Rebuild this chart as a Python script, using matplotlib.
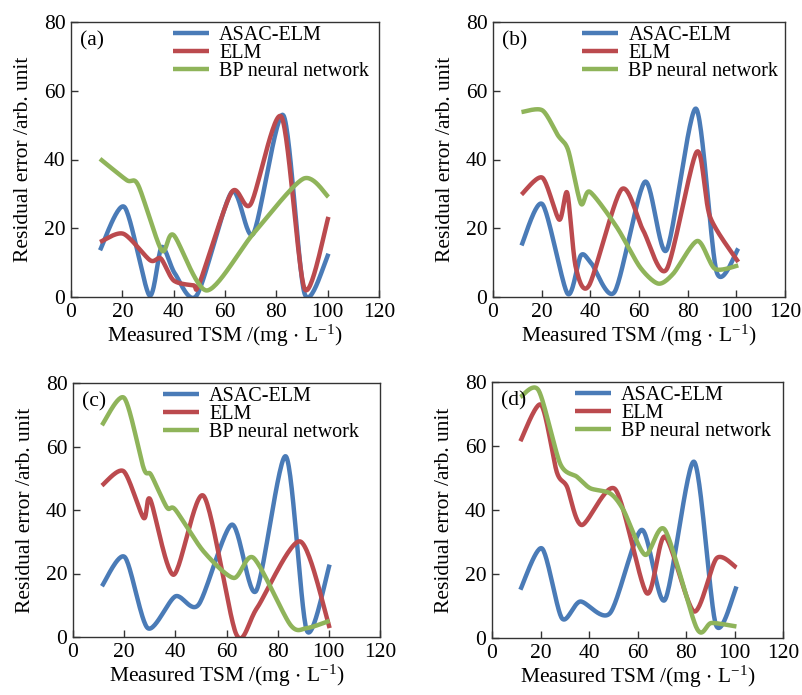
import numpy as np
import matplotlib
matplotlib.use("Agg")
import matplotlib.pyplot as plt

plt.rcParams['font.family'] = ['Liberation Serif', 'DejaVu Serif']
plt.rcParams['mathtext.fontset'] = 'custom'
plt.rcParams['mathtext.rm'] = 'Liberation Serif'
plt.rcParams['mathtext.default'] = 'regular'

series_names = ["ASAC-ELM", "ELM", "BP neural network"]
colors = ["#4a7bb7", "#bb4a4e", "#8fb45a"]
panel_labels = ["(a)", "(b)", "(c)", "(d)"]
x_ticks = [0, 20, 40, 60, 80, 100, 120]
y_ticks = [0, 20, 40, 60, 80]

# Panel (a)
a_asac_x = [11.3, 20.8, 30.5, 35.3, 40.5, 49.0, 62.6, 71.0, 82.7, 91.0, 100.3]
a_asac_y = [13.6, 26.2, 0.5, 14.5, 6.8, 0.5, 30.5, 18.4, 52.9, 1.0, 12.6]
a_elm_x = [11.3, 20.4, 30.8, 35.0, 40.0, 47.7, 50.0, 62.6, 70.0, 82.0, 91.0, 100.3]
a_elm_y = [16.0, 18.4, 10.7, 11.2, 4.8, 3.4, 3.9, 30.5, 27.0, 52.4, 2.4, 23.3]
a_bp_x = [11.3, 21.7, 26.2, 35.3, 40.0, 52.9, 71.0, 90.5, 100.3]
a_bp_y = [40.2, 34.0, 32.5, 13.6, 18.0, 1.9, 18.4, 34.4, 29.1]

# Panel (b)
b_asac_x = [11.7, 20.3, 30.6, 36.1, 40.5, 50.0, 62.4, 71.3, 83.4, 91.9, 100.8]
b_asac_y = [15.0, 27.0, 1.0, 12.1, 9.7, 1.5, 33.5, 13.6, 54.8, 7.3, 14.1]
b_elm_x = [11.7, 20.3, 27.2, 30.5, 34.0, 39.5, 52.8, 61.7, 71.3, 83.7, 89.2, 100.8]
b_elm_y = [29.8, 34.7, 22.5, 30.3, 8.7, 3.4, 31.3, 19.4, 8.0, 42.2, 23.3, 10.2]
b_bp_x = [11.7, 20.3, 26.7, 30.9, 36.1, 39.8, 50.8, 60.4, 67.9, 74.1, 84.0, 91.2, 100.8]
b_bp_y = [53.8, 54.3, 47.0, 42.7, 27.2, 30.6, 20.4, 8.7, 3.9, 6.8, 16.3, 8.2, 9.2]

# Panel (c)
c_asac_x = [11.3, 20.2, 29.2, 40.0, 49.1, 62.1, 71.5, 83.2, 91.4, 100.3]
c_asac_y = [16.0, 25.2, 2.8, 12.8, 10.2, 35.4, 14.4, 56.9, 2.0, 22.8]
c_elm_x = [11.3, 19.8, 27.6, 30.2, 39.3, 51.0, 63.8, 71.9, 88.8, 100.3]
c_elm_y = [47.7, 52.2, 37.5, 43.3, 19.6, 44.5, 0.9, 9.1, 30.1, 2.8]
c_bp_x = [11.3, 20.0, 27.6, 30.5, 36.7, 40.0, 51.0, 62.8, 70.6, 84.9, 91.4, 100.3]
c_bp_y = [66.7, 75.3, 53.2, 51.1, 40.8, 40.1, 27.0, 18.6, 24.9, 3.9, 2.8, 5.1]

# Panel (d)
d_asac_x = [11.7, 20.6, 28.8, 36.4, 48.7, 61.7, 71.3, 83.3, 92.3, 100.8]
d_asac_y = [15.1, 28.0, 6.2, 11.4, 7.8, 33.8, 11.9, 55.1, 4.2, 16.1]
d_elm_x = [11.7, 20.2, 26.7, 30.9, 37.0, 50.8, 63.8, 71.3, 83.3, 92.6, 100.8]
d_elm_y = [61.5, 72.9, 51.9, 47.3, 35.3, 46.5, 14.0, 31.7, 8.3, 24.9, 22.0]
d_bp_x = [11.7, 19.2, 28.1, 35.0, 40.5, 48.7, 54.2, 63.1, 71.3, 84.4, 90.5, 100.8]
d_bp_y = [75.3, 77.4, 54.5, 50.4, 46.8, 45.2, 40.0, 26.0, 33.8, 3.1, 4.7, 3.6]

panels = [
    [(a_asac_x, a_asac_y), (a_elm_x, a_elm_y), (a_bp_x, a_bp_y)],
    [(b_asac_x, b_asac_y), (b_elm_x, b_elm_y), (b_bp_x, b_bp_y)],
    [(c_asac_x, c_asac_y), (c_elm_x, c_elm_y), (c_bp_x, c_bp_y)],
    [(d_asac_x, d_asac_y), (d_elm_x, d_elm_y), (d_bp_x, d_bp_y)],
]


def smooth(x, y, n=30, tension=0.4):
    """Cardinal spline rendering through the given knots."""
    P = np.column_stack([x, y]).astype(float)
    P = np.vstack([P[0], P, P[-1]])
    out = []
    t = np.linspace(0, 1, n)
    for i in range(1, len(P) - 2):
        p0, p1, p2, p3 = P[i - 1], P[i], P[i + 1], P[i + 2]
        m1 = tension * (p2 - p0)
        m2 = tension * (p3 - p1)
        h00 = 2 * t**3 - 3 * t**2 + 1
        h10 = t**3 - 2 * t**2 + t
        h01 = -2 * t**3 + 3 * t**2
        h11 = t**3 - t**2
        seg = (h00[:, None] * p1 + h10[:, None] * m1 +
               h01[:, None] * p2 + h11[:, None] * m2)
        out.append(seg if i == 1 else seg[1:])
    S = np.vstack(out)
    return S[:, 0], S[:, 1]


fig = plt.figure(figsize=(8.02, 6.95), dpi=100)
rects = [
    (71 / 802, 1 - 297 / 695, 308 / 802, 275 / 695),
    (493 / 802, 1 - 297 / 695, 292 / 802, 275 / 695),
    (73 / 802, 1 - 637 / 695, 307 / 802, 254 / 695),
    (492 / 802, 1 - 638 / 695, 291 / 802, 256 / 695),
]
leg_x = [0.33, 0.305, 0.293, 0.285]

for k, ax_rect in enumerate(rects):
    ax = fig.add_axes(ax_rect)
    for (xs, ys), name, c in zip(panels[k], series_names, colors):
        sx, sy = smooth(xs, ys)
        ax.plot(sx, sy, color=c, lw=3.2, label=name, solid_capstyle='butt')
    ax.set_xlim(0, 120)
    ax.set_ylim(0, 80)
    ax.set_xticks(x_ticks)
    ax.set_yticks(y_ticks)
    ax.tick_params(direction='in', length=5, width=1, labelsize=15.5,
                   top=False, right=False, pad=4, color='#333333')
    for sp in ax.spines.values():
        sp.set_linewidth(1.0)
        sp.set_color('#333333')
    ax.set_xlabel("Measured TSM /(mg $\\cdot$ L$^{-1}$)", fontsize=15.5, labelpad=1)
    ax.set_ylabel("Residual error /arb. unit", fontsize=15.5, labelpad=8)
    ax.text(0.03, 0.965, panel_labels[k], transform=ax.transAxes,
            fontsize=15.5, va='top', ha='left')
    ax.legend(loc='upper left', bbox_to_anchor=(leg_x[k], 0.985),
              frameon=False, fontsize=14.5, handlelength=1.8,
              handletextpad=0.5, labelspacing=-0.05, borderpad=0,
              borderaxespad=0)

fig.savefig("out.png", dpi=100)
